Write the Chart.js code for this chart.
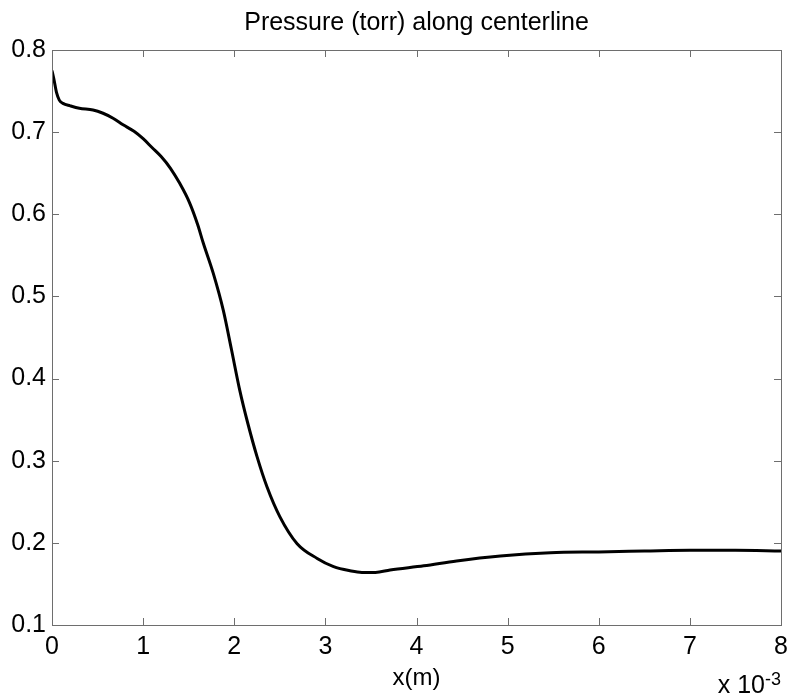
<!DOCTYPE html>
<html>
<head>
<meta charset="utf-8">
<script src="https://cdn.jsdelivr.net/npm/chart.js@4"></script>
<style>
  html, body { margin: 0; padding: 0; background: #fff; }
  #wrap { width: 788px; height: 700px; }
</style>
</head>
<body>
<div id="wrap"><canvas id="pressureChart" width="788" height="700"></canvas></div>
<script>
// position along centerline, in units of 1e-3 m
const xPos = [0, 0.02, 0.05, 0.08, 0.12, 0.2, 0.3, 0.45, 0.56, 0.67, 0.78, 0.9, 1.0, 1.1, 1.2, 1.3, 1.4, 1.51, 1.6, 1.66,
  1.77, 1.88, 1.97, 2.06, 2.15, 2.25, 2.36, 2.5, 2.69, 2.91, 3.09, 3.27, 3.4, 3.55, 3.71, 4.08, 4.44, 4.92, 5.47,
  6.0, 6.5, 7.0, 7.5, 8.0];
// pressure (torr)
const pressure = [0.775, 0.765, 0.748, 0.739, 0.735, 0.732, 0.729, 0.727, 0.723, 0.717, 0.709, 0.701, 0.692, 0.681,
  0.670, 0.656, 0.638, 0.614, 0.587, 0.565, 0.528, 0.483, 0.435, 0.386, 0.345, 0.305, 0.268, 0.232, 0.199, 0.181,
  0.171, 0.166, 0.164, 0.164, 0.167, 0.172, 0.178, 0.184, 0.188, 0.189, 0.190, 0.191, 0.191, 0.190];

const xTicks = [0, 1, 2, 3, 4, 5, 6, 7, 8];
const yTicks = [0.1, 0.2, 0.3, 0.4, 0.5, 0.6, 0.7, 0.8];

const titleText = "Pressure (torr) along centerline";
const FONT = "'Liberation Sans', Arial, sans-serif";

// matlab style box with inward ticks on all four sides, title over the axes, x 10^-3 exponent
const boxPlugin = {
  id: "box",
  afterDraw(chart) {
    const { ctx, chartArea: a, scales } = chart;
    const len = 7;
    ctx.save();
    ctx.strokeStyle = "#6e6e6e";
    ctx.lineWidth = 1;
    ctx.strokeRect(a.left + 0.5, a.top + 0.5, a.right - a.left, a.bottom - a.top);
    ctx.beginPath();
    xTicks.forEach(v => {
      const px = Math.round(scales.x.getPixelForValue(v)) + 0.5;
      ctx.moveTo(px, a.bottom); ctx.lineTo(px, a.bottom - len);
      ctx.moveTo(px, a.top); ctx.lineTo(px, a.top + len);
    });
    yTicks.forEach(v => {
      const py = Math.round(scales.y.getPixelForValue(v)) + 0.5;
      ctx.moveTo(a.left, py); ctx.lineTo(a.left + len, py);
      ctx.moveTo(a.right, py); ctx.lineTo(a.right - len, py);
    });
    ctx.stroke();

    ctx.fillStyle = "#000";
    ctx.textBaseline = "alphabetic";
    ctx.textAlign = "center";
    ctx.font = "25px " + FONT;
    ctx.fillText(titleText, (a.left + a.right) / 2, a.top - 20);

    ctx.textAlign = "right";
    ctx.font = "18px " + FONT;
    ctx.fillText("-3", a.right, a.bottom + 60);
    const w = ctx.measureText("-3").width;
    ctx.font = "25px " + FONT;
    ctx.fillText("x 10", a.right - w, a.bottom + 68);
    ctx.restore();
  }
};

function initChart() {
  const ctx = document.getElementById("pressureChart");

  new Chart(ctx, {
    type: "line",
    data: {
      datasets: [
        {
          data: xPos.map((x, i) => ({ x: x, y: pressure[i] })),
          borderColor: "#000",
          borderWidth: 3,
          pointRadius: 0,
          cubicInterpolationMode: "monotone",
          fill: false
        }
      ]
    },
    options: {
      responsive: false,
      animation: false,
      layout: { padding: { left: 0, right: 7, top: 50, bottom: 7 } },
      plugins: {
        legend: { display: false },
        tooltip: { enabled: false },
        title: { display: false }
      },
      scales: {
        x: {
          type: "linear",
          min: 0,
          max: 8,
          afterBuildTicks: s => { s.ticks = xTicks.map(v => ({ value: v })); },
          afterFit: s => { s.height = 68; s.paddingLeft = 0; s.paddingRight = 0; },
          grid: { display: false, drawTicks: false },
          border: { display: false },
          ticks: {
            color: "#000",
            padding: 7,
            maxRotation: 0,
            font: { family: FONT, size: 25 },
            callback: v => String(v)
          },
          title: {
            display: true,
            text: "x(m)",
            color: "#000",
            font: { family: FONT, size: 24 },
            padding: 0
          }
        },
        y: {
          type: "linear",
          min: 0.1,
          max: 0.8,
          afterBuildTicks: s => { s.ticks = yTicks.map(v => ({ value: v })); },
          afterFit: s => { s.width = 52; s.paddingTop = 0; s.paddingBottom = 0; },
          grid: { display: false, drawTicks: false },
          border: { display: false },
          ticks: {
            color: "#000",
            padding: 6,
            font: { family: FONT, size: 25 },
            callback: v => v.toFixed(1)
          }
        }
      }
    },
    plugins: [boxPlugin]
  });
}

document.addEventListener("DOMContentLoaded", initChart);
</script>
</body>
</html>
